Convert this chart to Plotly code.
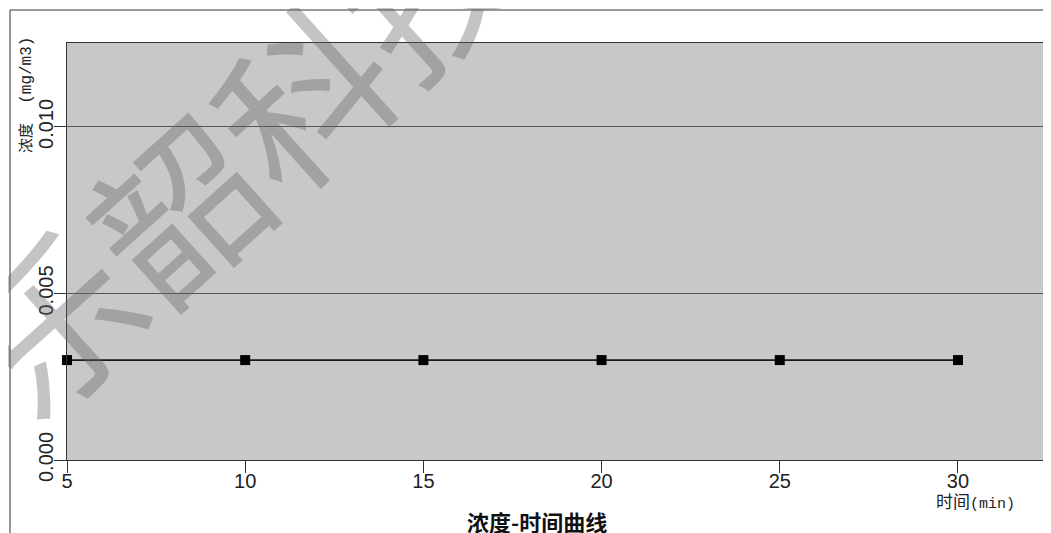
import plotly.graph_objects as go

# ---- data ----
time_min = [5, 10, 15, 20, 25, 30]
concentration = [0.003, 0.003, 0.003, 0.003, 0.003, 0.003]
x_ticks = [5, 10, 15, 20, 25, 30]
y_ticks = [0.000, 0.005, 0.010]
y_tick_labels = ["0.000", "0.005", "0.010"]
chart_title = "浓度-时间曲线"
x_title_cn = "时间"
x_title_unit = "(min)"
y_title_cn = "浓度"
y_title_unit = "(mg/m3)"
watermark = "乐韶科技"

OFF = 8  # page body margin
L, R, T, B = 59, 5, 35, 73
W, H = 1043, 525
pw, ph = W - L - R, H - T - B

def px_x(p):
    return (p - OFF - L) / pw

def px_y(p):
    return (H - B - (p - OFF)) / ph

fig = go.Figure()
fig.add_trace(go.Scatter(
    x=time_min, y=concentration, mode="lines+markers",
    line=dict(color="#1a1a1a", width=1.6),
    marker=dict(symbol="square", size=10, color="#000000"),
    cliponaxis=False, showlegend=False,
))

tick_font = dict(family="Liberation Sans, Arial, sans-serif", size=20, color="#222222")

fig.update_layout(
    width=W, height=H,
    margin=dict(l=L, r=R, t=T, b=B),
    paper_bgcolor="#ffffff",
    plot_bgcolor="#c8c8c8",
    showlegend=False,
    xaxis=dict(
        range=[5, 32.47], tickvals=x_ticks, ticktext=[str(v) for v in x_ticks],
        ticks="outside", ticklen=12, tickcolor="#333333", tickwidth=1,
        ticklabelstandoff=-9,
        showgrid=False, zeroline=False,
        showline=True, linecolor="#333333", linewidth=1, mirror=True,
        tickfont=tick_font,
    ),
    yaxis=dict(
        range=[0, 0.01252], tickvals=y_ticks, ticktext=y_tick_labels,
        ticks="outside", ticklen=12, tickcolor="#333333", tickwidth=1,
        tickangle=-90, ticklabelstandoff=-7,
        showgrid=True, gridcolor="#555555", gridwidth=1, zeroline=False,
        showline=True, linecolor="#333333", linewidth=1,
        tickfont=tick_font,
    ),
)

# right edge of plot (lighter)
fig.add_shape(type="line", xref="paper", yref="paper", x0=1, x1=1, y0=0, y1=1,
              line=dict(color="#999999", width=1))
# outer frame
fig.add_shape(type="rect", xref="paper", yref="paper",
              x0=px_x(10), x1=1.2, y0=-0.5, y1=px_y(10),
              line=dict(color="#333333", width=1), fillcolor="rgba(0,0,0,0)", layer="below")

mono = "Liberation Mono, DejaVu Sans Mono, monospace"
# y title
fig.add_annotation(
    xref="paper", yref="paper", x=px_x(25), y=px_y(95),
    text=f"<span style='font-family:Noto Sans CJK SC;font-size:15px'>{y_title_cn}</span>"
         f"<span style='font-family:{mono};font-size:16px'>&nbsp;&nbsp;{y_title_unit}</span>",
    textangle=-90, showarrow=False, xanchor="center", yanchor="middle",
    font=dict(color="#222222", size=14),
)
# x title
fig.add_annotation(
    xref="paper", yref="paper", x=px_x(975), y=px_y(500),
    text=f"<span style='font-family:Noto Sans CJK SC;font-size:17px'>{x_title_cn}</span>"
         f"<span style='font-family:{mono};font-size:15px'>{x_title_unit}</span>",
    showarrow=False, xanchor="center", yanchor="middle",
    font=dict(color="#222222", size=15),
)
# chart title
fig.add_annotation(
    xref="paper", yref="paper", x=px_x(537), y=px_y(521),
    text=f"<b>{chart_title}</b>", showarrow=False, xanchor="center", yanchor="middle",
    font=dict(family="Noto Sans CJK SC", size=22, color="#111111"),
)
# watermark
fig.add_annotation(
    xref="paper", yref="paper", x=px_x(236), y=px_y(148),
    text=watermark, textangle=-42, showarrow=False, xanchor="center", yanchor="middle",
    font=dict(family="Noto Sans CJK SC", size=168, color="rgba(100,100,100,0.38)"),
)

fig.write_html("out.html")
